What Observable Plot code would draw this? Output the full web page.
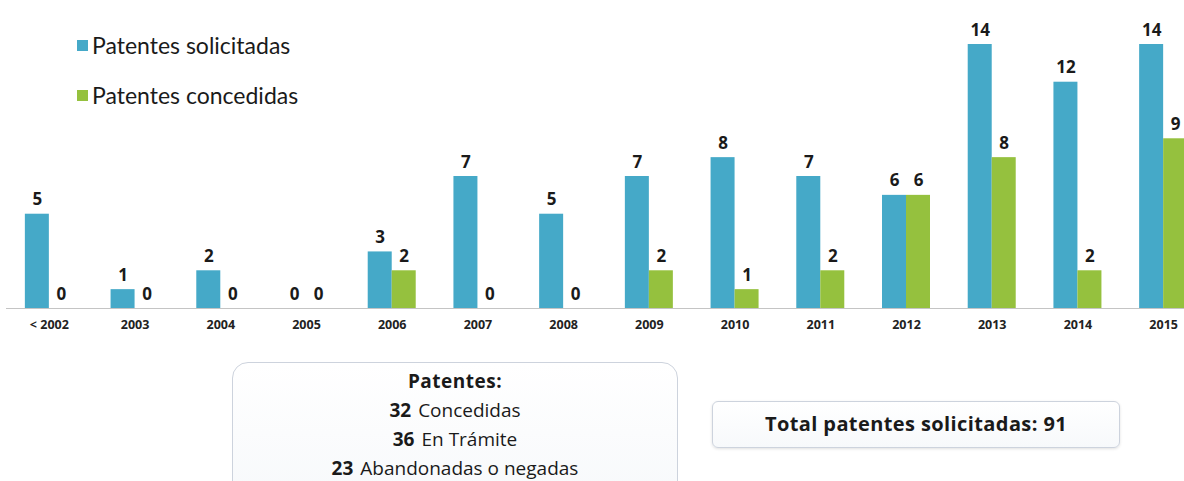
<!DOCTYPE html>
<html>
<head>
<meta charset="utf-8">
<script src="https://cdn.jsdelivr.net/npm/d3@7"></script>
<script src="https://cdn.jsdelivr.net/npm/@observablehq/plot@0.6"></script>
<style>
  html, body { margin: 0; padding: 0; background: #fff; overflow: hidden; width: 1184px; height: 481px; }
  #wrap { position: relative; width: 1184px; height: 481px; overflow: hidden; }
  #chart { position: absolute; left: 0; top: 0; width: 1206px; }
  #chart svg { max-width: none !important; }
  #legend { position: absolute; left: 77px; top: 30px; font-family: Lato, "Open Sans", sans-serif; font-size: 23px; color: #1a1a1a; }
  #legend .item { display: flex; align-items: center; height: 30px; margin-bottom: 20px; }
  #legend .sw { width: 11px; height: 11px; margin-right: 4px; }
  .box { position: absolute; box-sizing: border-box; background: linear-gradient(#ffffff, #f7f9fb); border: 1.5px solid #cdd3dd; font-family: "Open Sans", sans-serif; color: #1a1a1a; text-align: center; }
  #box1 { left: 232px; top: 362px; width: 446px; height: 140px; border-radius: 16px; font-size: 19px; }
  #box1 .line { height: 29px; line-height: 29px; }
  #box1 .head { font-weight: 700; font-size: 19px; margin-top: 4px; letter-spacing: 0.5px; }
  #box1 b { font-weight: 700; margin-right: 7px; }
  #box2 { left: 712px; top: 401px; width: 408px; height: 47px; border-radius: 6px; font-weight: 700; font-size: 20px; line-height: 44px; letter-spacing: 0.4px; box-shadow: 0 1px 3px rgba(0,0,0,0.12); }
  svg [aria-label="x-axis tick label"] text { font-weight: 700; }
</style>
</head>
<body>
<div id="wrap">
  <div id="chart"></div>
  <div id="legend"></div>
  <div id="box1" class="box"></div>
  <div id="box2" class="box"></div>
</div>
<script>
const years = ["< 2002","2003","2004","2005","2006","2007","2008","2009","2010","2011","2012","2013","2014","2015"];
const solicitadas = [5,1,2,0,3,7,5,7,8,7,6,14,12,14];
const concedidas = [0,0,0,0,2,0,0,2,1,2,6,8,2,9];
const seriesNames = ["Patentes solicitadas","Patentes concedidas"];
const seriesColors = ["#45a9c8","#95c13e"];
const estadoLabels = ["Concedidas","En Trámite","Abandonadas o negadas"];
const estadoCounts = [32,36,23];
const totalLabel = "Total patentes solicitadas";

const table = years.map((year, i) => ({year, sol: solicitadas[i], con: concedidas[i]}));

const bw = 1200 / years.length;
const barW = 24;
const half = bw / 2;

const chart = Plot.plot({
  width: 1206,
  height: 346,
  marginLeft: 6,
  marginRight: 0,
  marginTop: 44,
  marginBottom: 38,
  style: {fontFamily: "'Open Sans', sans-serif", fontSize: "12px", color: "#222", background: "transparent", overflow: "visible", maxWidth: "none"},
  x: {type: "band", domain: years, padding: 0, round: false, label: null},
  y: {domain: [0, 14], axis: null},
  marks: [
    Plot.barY(table, {x: "year", y: "sol", fill: seriesColors[0], insetLeft: half - barW, insetRight: half}),
    Plot.barY(table, {x: "year", y: "con", fill: seriesColors[1], insetLeft: half, insetRight: half - barW}),
    Plot.ruleY([0], {stroke: "#c4c4c4", strokeWidth: 1.2}),
    Plot.text(table, {x: "year", y: "sol", text: d => String(d.sol), dx: -barW / 2, dy: -9, lineAnchor: "bottom", fontSize: 17, fontWeight: 700, fill: "#1a1a1a"}),
    Plot.text(table, {x: "year", y: "con", text: d => String(d.con), dx: barW / 2, dy: -9, lineAnchor: "bottom", fontSize: 17, fontWeight: 700, fill: "#1a1a1a"}),
    Plot.axisX({tickSize: 0, tickPadding: 12, label: null, fontSize: 12.5, fill: "#222"})
  ]
});
document.getElementById("chart").appendChild(chart);

const legend = document.getElementById("legend");
seriesNames.forEach((name, i) => {
  const item = document.createElement("div");
  item.className = "item";
  const sw = document.createElement("span");
  sw.className = "sw";
  sw.style.background = seriesColors[i];
  const t = document.createElement("span");
  t.textContent = name;
  item.appendChild(sw); item.appendChild(t);
  legend.appendChild(item);
});

const box1 = document.getElementById("box1");
const head = document.createElement("div");
head.className = "line head";
head.textContent = "Patentes:";
box1.appendChild(head);
estadoLabels.forEach((lab, i) => {
  const line = document.createElement("div");
  line.className = "line";
  const b = document.createElement("b");
  b.textContent = String(estadoCounts[i]);
  line.appendChild(b);
  line.appendChild(document.createTextNode(lab));
  box1.appendChild(line);
});

document.getElementById("box2").textContent = totalLabel + ": " + d3.sum(solicitadas);
</script>
</body>
</html>
